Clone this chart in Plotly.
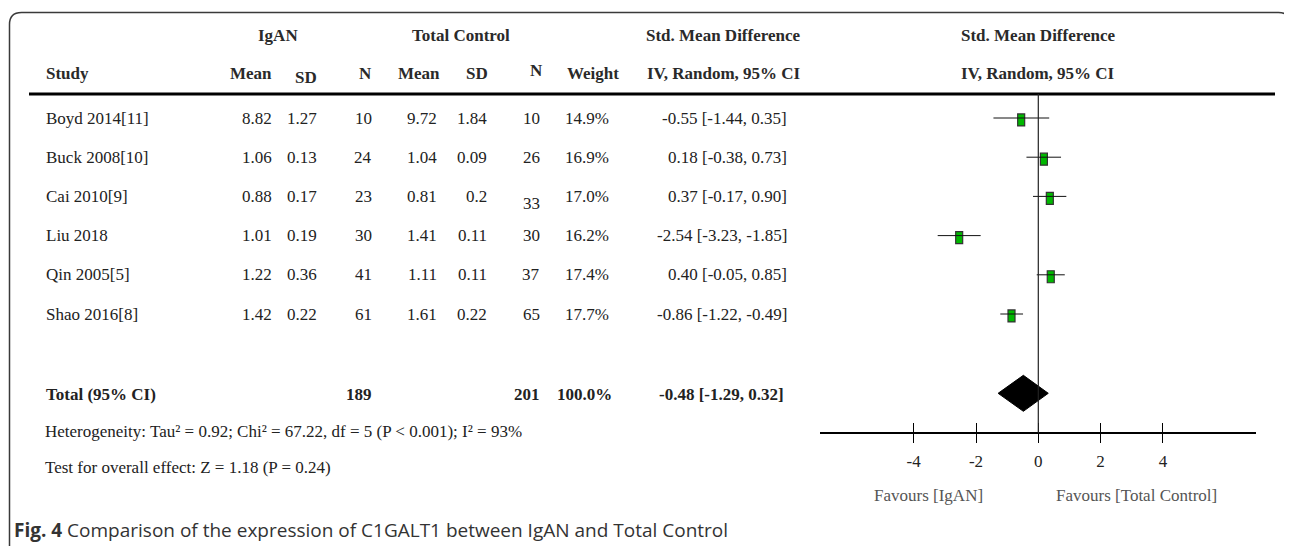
import plotly.graph_objects as go

# ---------------- data ----------------
studies = ["Boyd 2014[11]", "Buck 2008[10]", "Cai 2010[9]", "Liu 2018", "Qin 2005[5]", "Shao 2016[8]"]
igan_mean = [8.82, 1.06, 0.88, 1.01, 1.22, 1.42]
igan_sd = [1.27, 0.13, 0.17, 0.19, 0.36, 0.22]
igan_n = [10, 24, 23, 30, 41, 61]
ctrl_mean = [9.72, 1.04, 0.81, 1.41, 1.11, 1.61]
ctrl_sd = [1.84, 0.09, 0.2, 0.11, 0.11, 0.22]
ctrl_n = [10, 26, 33, 30, 37, 65]
weights = [14.9, 16.9, 17.0, 16.2, 17.4, 17.7]
smd = [-0.55, 0.18, 0.37, -2.54, 0.40, -0.86]
ci_lo = [-1.44, -0.38, -0.17, -3.23, -0.05, -1.22]
ci_hi = [0.35, 0.73, 0.90, -1.85, 0.85, -0.49]

total_igan_n = 189
total_ctrl_n = 201
total_weight = 100.0
total_smd = -0.48
total_lo = -1.29
total_hi = 0.32

tick_vals = [-4, -2, 0, 2, 4]
tick_text = ["-4", "-2", "0", "2", "4"]
axis_range = [-7, 7]

heterogeneity = "Heterogeneity: Tau² = 0.92; Chi² = 67.22, df = 5 (P < 0.001); I² = 93%"
overall = "Test for overall effect: Z = 1.18 (P = 0.24)"
caption = "<b>Fig. 4</b> Comparison of the expression of C1GALT1 between IgAN and Total Control"
fav_left = "Favours [IgAN]"
fav_right = "Favours [Total Control]"

# ---------------- geometry / style ----------------
OFF = 8                      # page body margin in which the figure sits
W, H = 1292 - OFF, 546 - OFF
SERIF = "Liberation Serif"
SANS = "Open Sans"
TXT = "#222222"
HDR = "#2a2a2a"
FS = 17

ROW0_PX, ROW_STEP = 118.0, 39.2      # page y of first study row and row pitch
ZERO_PX, UNIT_PX = 1038.3, 31.15     # page x of SMD=0 and px per unit
AXIS_PX = 432.7                      # page y of forest x-axis line
HEADER_LINE_PX = 94.0


def fx(px):
    return (px - OFF) / W


def fy(py):
    return 1 - (py - OFF) / H


def row_of_px(py):
    return 1 + (py - ROW0_PX) / ROW_STEP


rows = list(range(1, len(studies) + 1))
total_row = row_of_px(394.0)

fig = go.Figure()

# CI lines
cx, cy = [], []
for r, lo, hi in zip(rows, ci_lo, ci_hi):
    cx += [lo, hi, None]
    cy += [r, r, None]
fig.add_trace(go.Scatter(x=cx, y=cy, mode="lines", line=dict(color="#111111", width=1),
                         hoverinfo="skip", showlegend=False))

# weight boxes (horizontal bars centred on the estimate)
box_w = 7 / UNIT_PX
box_h = 12 / ROW_STEP
fig.add_trace(go.Bar(orientation="h", y=[r + 0.05 for r in rows],
                     base=[m - box_w / 2 for m in smd], x=[box_w] * len(smd),
                     width=box_h, marker=dict(color="#00b800", line=dict(color="#333333", width=1.2)),
                     hoverinfo="skip", showlegend=False))

# pooled diamond
dh = 18 / ROW_STEP
dr = row_of_px(393.3)
fig.add_trace(go.Scatter(x=[total_lo, total_smd, total_hi, total_smd, total_lo],
                         y=[dr, dr - dh, dr, dr + dh, dr], mode="lines", fill="toself",
                         fillcolor="black", line=dict(color="black", width=1),
                         hoverinfo="skip", showlegend=False))

# dummy trace for overlay axis (upper half of crossing ticks)
fig.add_trace(go.Scatter(x=[0], y=[0], xaxis="x2", mode="markers", marker=dict(opacity=0),
                         hoverinfo="skip", showlegend=False))

x_dom = [fx(ZERO_PX + axis_range[0] * UNIT_PX), fx(ZERO_PX + axis_range[1] * UNIT_PX)]
y_top = row_of_px(OFF)
y_bot = row_of_px(OFF + H)

fig.update_layout(
    width=W, height=H, margin=dict(l=0, r=0, t=0, b=0),
    paper_bgcolor="white", plot_bgcolor="white", barmode="overlay", showlegend=False,
    xaxis=dict(domain=x_dom, range=axis_range, anchor="free", position=fy(AXIS_PX),
               showgrid=False, zeroline=False, showline=True, linecolor="black", linewidth=1.5,
               ticks="outside", ticklen=10, tickwidth=1.3, tickcolor="black",
               tickvals=tick_vals, ticktext=tick_text, ticklabelstandoff=3,
               tickfont=dict(family=SERIF, size=FS, color=TXT), fixedrange=True),
    xaxis2=dict(overlaying="x", matches="x", anchor="free", position=fy(AXIS_PX),
                showgrid=False, zeroline=False, showline=False, ticks="inside", ticklen=10,
                tickwidth=1.3, tickcolor="black", tickvals=tick_vals, showticklabels=False),
    yaxis=dict(domain=[0, 1], range=[y_bot, y_top], visible=False, fixedrange=True),
)

shapes = []
# rounded border (top corners rounded, continues past bottom)
bl, bt, br, rad = 9.5, 12.5, 1290.5, 12
shapes.append(dict(type="path", xref="paper", yref="paper",
                   path=(f"M {fx(bl)},{fy(560)} L {fx(bl)},{fy(bt + rad)} "
                         f"Q {fx(bl)},{fy(bt)} {fx(bl + rad)},{fy(bt)} L {fx(br - rad)},{fy(bt)} "
                         f"Q {fx(br)},{fy(bt)} {fx(br)},{fy(bt + rad)} L {fx(br)},{fy(560)}"),
                   line=dict(color="#3a3a3a", width=1.5)))
# header rule
shapes.append(dict(type="line", xref="paper", yref="paper", x0=fx(29), x1=fx(1275),
                   y0=fy(HEADER_LINE_PX), y1=fy(HEADER_LINE_PX), line=dict(color="black", width=3)))
# line of no effect
shapes.append(dict(type="line", xref="x", yref="paper", x0=0, x1=0,
                   y0=fy(HEADER_LINE_PX), y1=fy(AXIS_PX), line=dict(color="#222222", width=1.2)))
fig.update_layout(shapes=shapes)

ann = []


def txt(text, xpx, ypx, anchor="left", bold=False, color=TXT, size=FS, family=SERIF):
    ann.append(dict(text=f"<b>{text}</b>" if bold else text, x=fx(xpx), y=fy(ypx),
                    xref="paper", yref="paper", xanchor=anchor, yanchor="middle",
                    showarrow=False, font=dict(family=family, size=size, color=color)))


def rtxt(text, xpx, r, anchor="right", bold=False, yshift=0):
    ann.append(dict(text=f"<b>{text}</b>" if bold else text, x=fx(xpx), y=r,
                    xref="paper", yref="y", xanchor=anchor, yanchor="middle", yshift=yshift,
                    showarrow=False, font=dict(family=SERIF, size=FS, color=TXT)))


# header row 1
txt("IgAN", 278, 36, "center", True, HDR)
txt("Total Control", 461, 36, "center", True, HDR)
txt("Std. Mean Difference", 724, 36, "center", True, HDR)
txt("Std. Mean Difference", ZERO_PX, 36, "center", True, HDR)
# header row 2
txt("Study", 44, 73, "left", True, HDR)
txt("Mean", 274, 73, "right", True, HDR)
txt("SD", 306, 77, "center", True, HDR)
txt("N", 365, 73, "center", True, HDR)
txt("Mean", 442, 73, "right", True, HDR)
txt("SD", 477, 73, "center", True, HDR)
txt("N", 536, 71, "center", True, HDR)
txt("Weight", 593, 73, "center", True, HDR)
txt("IV, Random, 95% CI", 724, 73, "center", True, HDR)
txt("IV, Random, 95% CI", ZERO_PX, 73, "center", True, HDR)

COLS = dict(study=44, im=274, isd=319, inn=374, cm=439, csd=489, cn=542, w=611, smd=789)
for i, r in enumerate(rows):
    rtxt(studies[i], COLS["study"], r, "left")
    rtxt(str(igan_mean[i]), COLS["im"], r)
    rtxt(f"{igan_sd[i]}", COLS["isd"], r)
    rtxt(str(igan_n[i]), COLS["inn"], r)
    rtxt(str(ctrl_mean[i]), COLS["cm"], r)
    rtxt(str(ctrl_sd[i]), COLS["csd"], r)
    rtxt(str(ctrl_n[i]), COLS["cn"], r, yshift=-7 if studies[i].startswith("Cai") else 0)
    rtxt(f"{weights[i]:.1f}%", COLS["w"], r)
    rtxt(f"{smd[i]:.2f} [{ci_lo[i]:.2f}, {ci_hi[i]:.2f}]", COLS["smd"], r)

rtxt("Total (95% CI)", COLS["study"], total_row, "left", True)
rtxt(str(total_igan_n), COLS["inn"], total_row, bold=True)
rtxt(str(total_ctrl_n), COLS["cn"], total_row, bold=True)
rtxt(f"{total_weight:.1f}%", COLS["w"] + 3, total_row, bold=True)
rtxt(f"{total_smd:.2f} [{total_lo:.2f}, {total_hi:.2f}]", COLS["smd"] - 3, total_row, bold=True)

txt(heterogeneity, 43, 431)
txt(overall, 43, 467)
txt(fav_left, 928, 495, "center", color="#555555")
txt(fav_right, 1136, 495, "center", color="#555555")
txt(caption, 12, 530, "left", color="#333333", size=19, family=SANS)

fig.update_layout(annotations=ann)
fig.write_html("out.html")
